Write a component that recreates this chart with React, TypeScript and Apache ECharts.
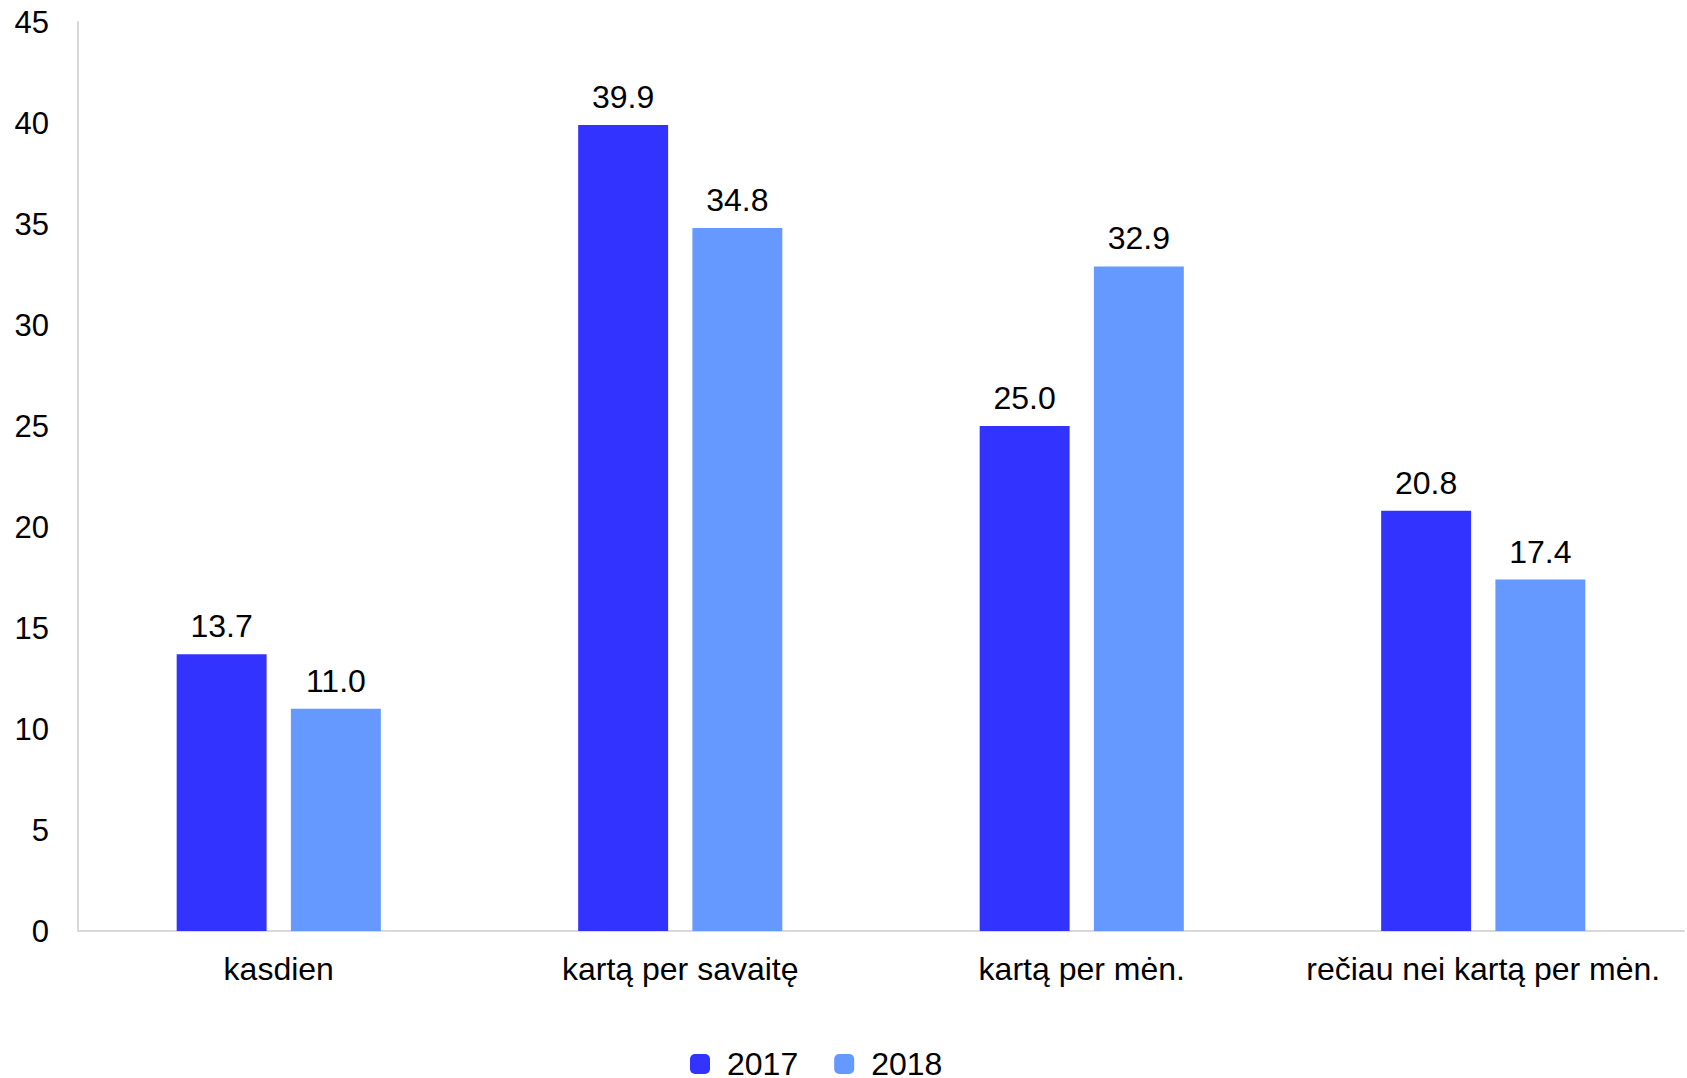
import React, { useEffect, useRef } from "react";
import * as echarts from "echarts";

const categories = ["kasdien", "kartą per savaitę", "kartą per mėn.", "rečiau nei kartą per mėn."];
const values2017 = [13.7, 39.9, 25.0, 20.8];
const values2018 = [11.0, 34.8, 32.9, 17.4];
const seriesNames = ["2017", "2018"];
const colors = ["#3333FF", "#6699FF"];

const FONT = "'Liberation Sans', Arial, sans-serif";

export default function App() {
  const ref = useRef<HTMLDivElement>(null);
  useEffect(() => {
    if (!ref.current) return;
    const chart = echarts.init(ref.current, null, { renderer: "svg" });
    const label = {
      show: true,
      position: "top",
      distance: 12,
      color: "#000",
      fontSize: 32,
      fontFamily: FONT,
      formatter: (p: any) => Number(p.value).toFixed(1),
    };
    chart.setOption({
      animation: false,
      backgroundColor: "#fff",
      grid: { left: 78, right: 3, top: 22, bottom: 147 },
      legend: {
        left: 690,
        top: 1048,
        padding: 0,
        itemWidth: 20,
        itemHeight: 20,
        itemGap: 36,
        icon: "roundRect",
        textStyle: { color: "#000", fontSize: 32, lineHeight: 30, fontFamily: FONT, padding: [0, 0, 0, 12] },
        data: seriesNames,
      },
      xAxis: {
        type: "category",
        data: categories,
        axisLine: { lineStyle: { color: "#d9d9d9", width: 2 } },
        axisTick: { show: false },
        axisLabel: { color: "#000", fontSize: 32, fontFamily: FONT, margin: 22, interval: 0 },
      },
      yAxis: {
        type: "value",
        min: 0,
        max: 45,
        interval: 5,
        splitLine: { show: false },
        axisLine: { show: true, lineStyle: { color: "#d9d9d9", width: 2 } },
        axisTick: { show: false },
        axisLabel: { color: "#000", fontSize: 31, fontFamily: FONT, margin: 29 },
      },
      series: [
        {
          name: seriesNames[0],
          type: "bar",
          data: values2017,
          barWidth: "22.4%",
          barGap: "27%",
          itemStyle: { color: colors[0] },
          label,
        },
        {
          name: seriesNames[1],
          type: "bar",
          data: values2018,
          barWidth: "22.4%",
          barGap: "27%",
          itemStyle: { color: colors[1] },
          label,
        },
      ],
    });
    return () => chart.dispose();
  }, []);
  return (
    <div
      ref={ref}
      style={{ position: "fixed", left: 0, top: 0, width: 1687, height: 1078 }}
    />
  );
}
